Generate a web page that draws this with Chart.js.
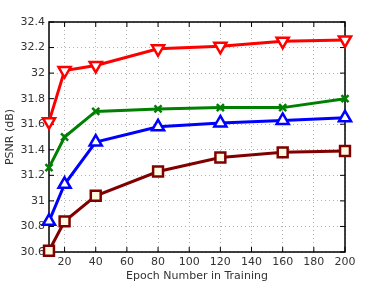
<!DOCTYPE html>
<html>
<head>
<meta charset="utf-8">
<script src="https://cdn.jsdelivr.net/npm/chart.js@4/dist/chart.umd.min.js"></script>
<style>
  html, body { margin: 0; padding: 0; background: #fff; }
  canvas { display: block; }
</style>
</head>
<body>
<canvas id="chart" width="381" height="287"></canvas>
<script>
// Datos
const epochs = [10, 20, 40, 80, 120, 160, 200];
const xTicks = [20, 40, 60, 80, 100, 120, 140, 160, 180, 200];
const redSeries = [31.62, 32.02, 32.06, 32.19, 32.21, 32.25, 32.26];
const greenSeries = [31.26, 31.50, 31.70, 31.72, 31.73, 31.73, 31.80];
const blueSeries = [30.84, 31.13, 31.46, 31.58, 31.61, 31.63, 31.65];
const darkSeries = [30.61, 30.84, 31.04, 31.23, 31.34, 31.38, 31.39];

const FONT = { family: '"DejaVu Sans", sans-serif', size: 11 };
const TEXT = '#333';

function toPoints(values) {
    return epochs.map((e, i) => ({ x: e, y: values[i] }));
}

function series(values, color, style, fill, radius, rotation) {
    return {
        data: toPoints(values),
        borderColor: color,
        backgroundColor: fill,
        borderWidth: 3,
        pointStyle: style,
        pointRadius: radius,
        pointRotation: rotation || 0,
        pointBorderWidth: 2.5,
        pointBackgroundColor: fill,
        pointBorderColor: color,
        tension: 0,
        clip: false
    };
}

// Marco negro y marcas hacia dentro en los cuatro lados
const boxPlugin = {
    id: 'box',
    beforeDatasetsDraw(chart) {
        const { ctx, chartArea: a, scales } = chart;
        ctx.save();
        ctx.strokeStyle = '#000';
        ctx.lineWidth = 1.5;
        ctx.strokeRect(a.left, a.top, a.right - a.left, a.bottom - a.top);
        ctx.lineWidth = 1;
        ctx.beginPath();
        scales.x.ticks.forEach(t => {
            const px = scales.x.getPixelForValue(t.value);
            ctx.moveTo(px, a.bottom); ctx.lineTo(px, a.bottom - 5);
            ctx.moveTo(px, a.top); ctx.lineTo(px, a.top + 5);
        });
        scales.y.ticks.forEach(t => {
            const py = scales.y.getPixelForValue(t.value);
            ctx.moveTo(a.left, py); ctx.lineTo(a.left + 5, py);
            ctx.moveTo(a.right, py); ctx.lineTo(a.right - 5, py);
        });
        ctx.stroke();
        ctx.restore();
    }
};

new Chart(document.getElementById('chart'), {
    type: 'line',
    data: {
        datasets: [
            series(darkSeries, '#800000', 'rect', '#fffbe0', 7),
            series(blueSeries, '#0000ff', 'triangle', '#ffffff', 7),
            series(greenSeries, '#008000', 'crossRot', '#008000', 5),
            series(redSeries, '#ff0000', 'triangle', '#ffffff', 7, 180)
        ]
    },
    options: {
        responsive: false,
        animation: false,
        layout: { padding: { left: 0, right: 36, top: 22, bottom: 0 } },
        plugins: { legend: { display: false }, tooltip: { enabled: false } },
        scales: {
            x: {
                type: 'linear',
                min: 10,
                max: 200,
                afterBuildTicks: s => { s.ticks = xTicks.map(v => ({ value: v })); },
                afterFit: s => { s.height = 35; },
                grid: { color: '#b0b0b0', drawTicks: false, lineWidth: 1 },
                border: { display: false, dash: [1, 3] },
                ticks: { font: FONT, color: TEXT, padding: 4, maxRotation: 0 },
                title: { display: true, text: 'Epoch Number in Training', font: FONT, color: TEXT, padding: { top: 0 } }
            },
            y: {
                min: 30.6,
                max: 32.4,
                afterFit: s => { s.width = 49; },
                grid: { color: '#b0b0b0', drawTicks: false, lineWidth: 1 },
                border: { display: false, dash: [1, 3] },
                ticks: {
                    stepSize: 0.2,
                    font: FONT,
                    color: TEXT,
                    padding: 4,
                    callback: v => String(Math.round(v * 10) / 10)
                },
                title: { display: true, text: 'PSNR (dB)', font: FONT, color: TEXT, padding: { bottom: 0 } }
            }
        }
    },
    plugins: [boxPlugin]
});
</script>
</body>
</html>
